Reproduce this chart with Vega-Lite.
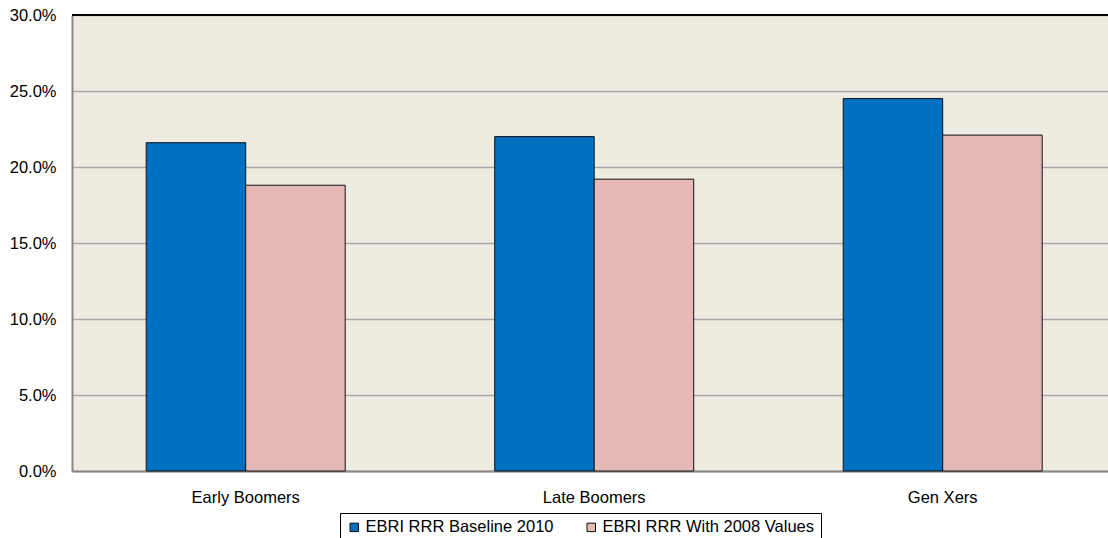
{
  "$schema": "https://vega.github.io/schema/vega-lite/v6.json",
  "width": 1036,
  "height": 456,
  "autosize": {"type": "none"},
  "padding": {"left": 72, "top": 15, "right": 0, "bottom": 67},
  "background": "white",
  "config": {
    "font": "Liberation Sans",
    "view": {"fill": "#EEEBE0", "stroke": null}
  },
  "data": {
    "values": [
      {"group": "Early Boomers", "series": "EBRI RRR Baseline 2010", "value": 0.216},
      {"group": "Early Boomers", "series": "EBRI RRR With 2008 Values", "value": 0.188},
      {"group": "Late Boomers", "series": "EBRI RRR Baseline 2010", "value": 0.220},
      {"group": "Late Boomers", "series": "EBRI RRR With 2008 Values", "value": 0.192},
      {"group": "Gen Xers", "series": "EBRI RRR Baseline 2010", "value": 0.245},
      {"group": "Gen Xers", "series": "EBRI RRR With 2008 Values", "value": 0.221}
    ]
  },
  "layer": [
    {
      "mark": {"type": "bar", "stroke": "#111111", "strokeWidth": 1},
      "encoding": {
        "x": {
          "field": "group",
          "type": "nominal",
          "sort": ["Early Boomers", "Late Boomers", "Gen Xers"],
          "scale": {"paddingInner": 0.429, "paddingOuter": 0.2009, "align": 0.53},
          "axis": {
            "title": null,
            "labelAngle": 0,
            "labelFontSize": 16.5,
            "labelColor": "#000000",
            "labelPadding": 18,
            "ticks": false,
            "domainColor": "#888888",
            "domainWidth": 2,
            "grid": false
          }
        },
        "xOffset": {
          "field": "series",
          "type": "nominal",
          "sort": ["EBRI RRR Baseline 2010", "EBRI RRR With 2008 Values"],
          "scale": {"paddingInner": 0, "paddingOuter": 0}
        },
        "y": {
          "field": "value",
          "type": "quantitative",
          "scale": {"domain": [0, 0.3], "nice": false},
          "axis": {
            "title": null,
            "format": ".1%",
            "values": [0, 0.05, 0.1, 0.15, 0.2, 0.25, 0.3],
            "labelFontSize": 16.5,
            "labelColor": "#000000",
            "labelPadding": 16,
            "ticks": false,
            "domainColor": "#888888",
            "domainWidth": 2,
            "grid": true,
            "gridWidth": 1.5,
            "gridColor": "#A8A8A8"
          }
        },
        "color": {
          "field": "series",
          "type": "nominal",
          "scale": {
            "domain": ["EBRI RRR Baseline 2010", "EBRI RRR With 2008 Values"],
            "range": ["#0070C0", "#E6B8B7"]
          },
          "legend": {
            "title": null,
            "orient": "none",
            "legendX": 268,
            "legendY": 498,
            "direction": "horizontal",
            "padding": 6,
            "strokeColor": "#000000",
            "symbolType": "square",
            "symbolSize": 72,
            "symbolStrokeColor": "#111111",
            "symbolStrokeWidth": 1,
            "labelFontSize": 16.5,
            "labelColor": "#000000",
            "labelLimit": 400,
            "labelOffset": 3,
            "columnPadding": 29
          }
        }
      }
    },
    {
      "mark": {"type": "rule", "color": "#000000", "strokeWidth": 2},
      "encoding": {
        "y": {"datum": 0.3}
      }
    }
  ]
}
